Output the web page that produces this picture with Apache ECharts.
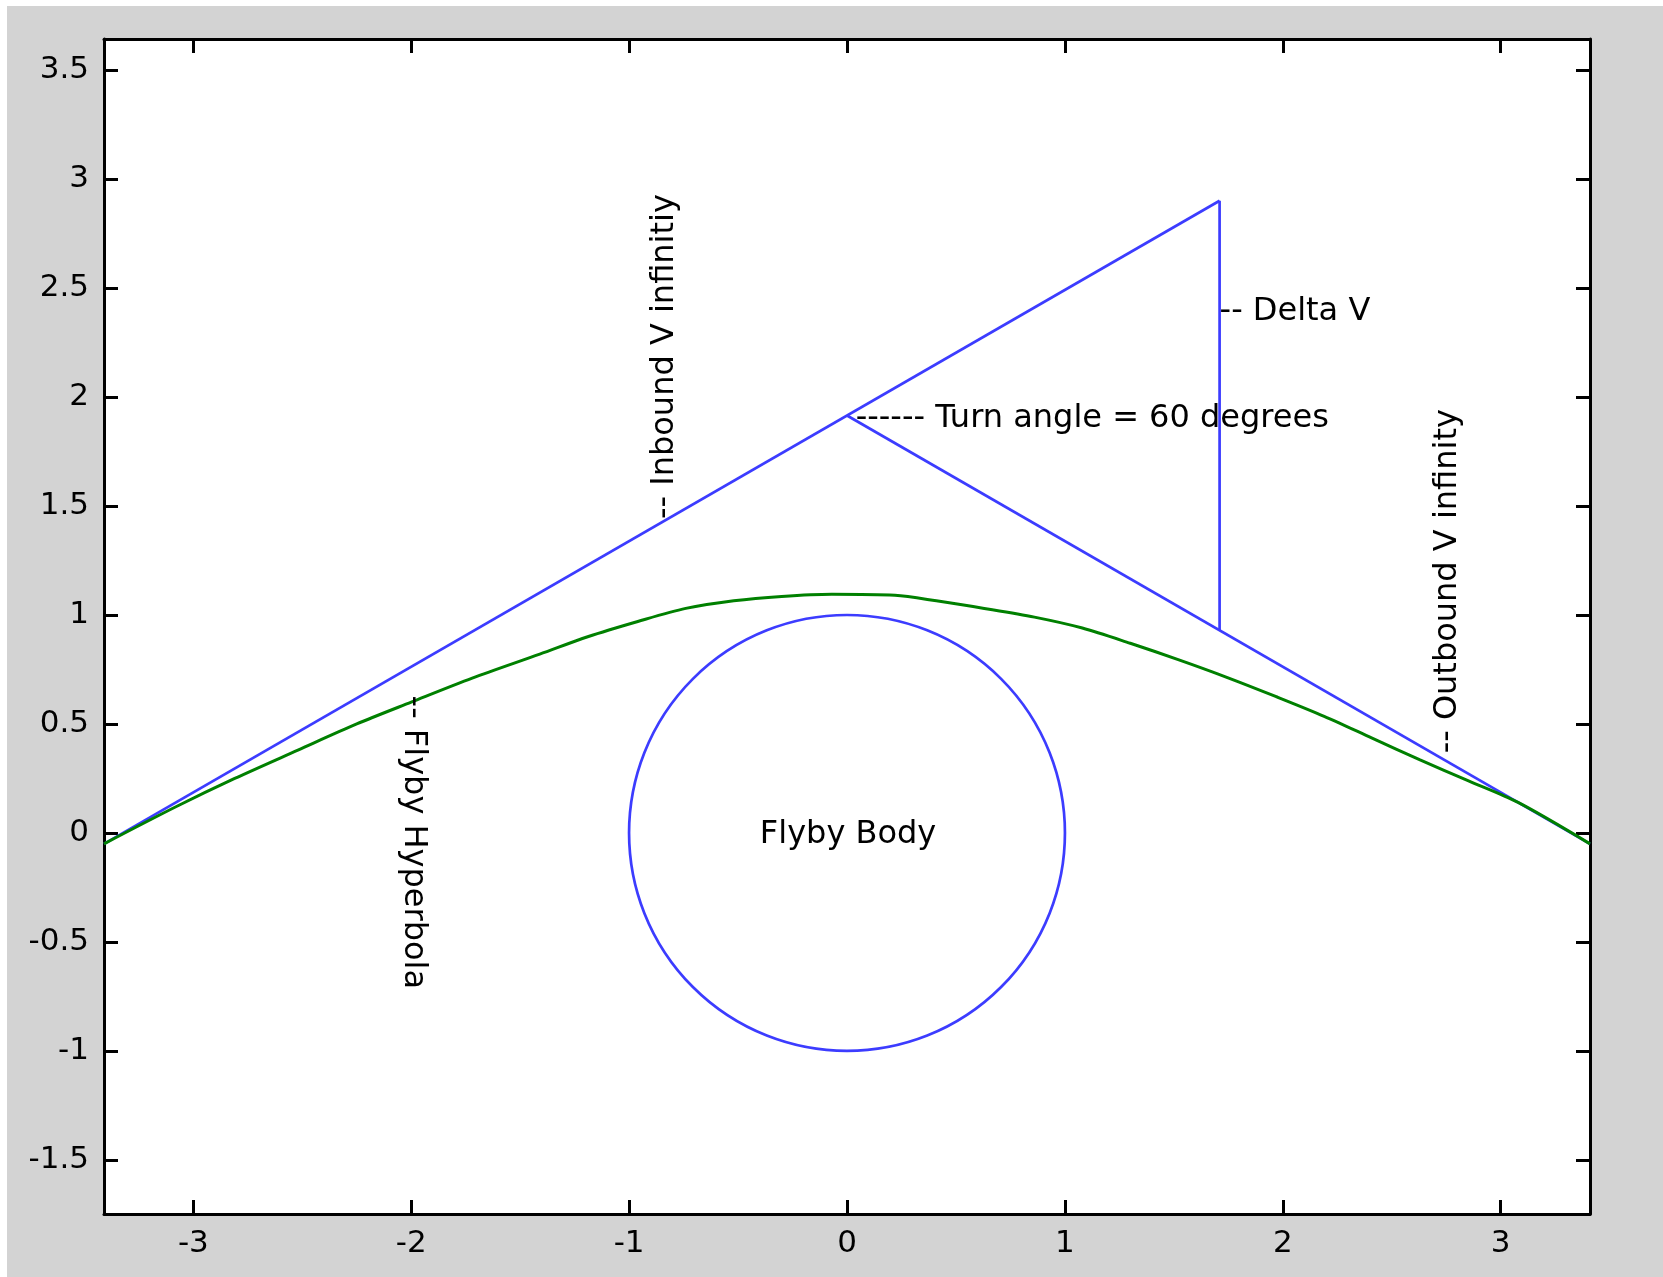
<!DOCTYPE html>
<html>
<head>
<meta charset="utf-8">
<script src="https://cdn.jsdelivr.net/npm/echarts@6/dist/echarts.min.js"></script>
<style>
  html, body { margin: 0; padding: 0; background: #ffffff; }
  #bg { position: absolute; left: 7px; top: 6px; width: 1656px; height: 1271px; background: #d3d3d3; }
  #chart { position: absolute; left: 0; top: 0; width: 1663px; height: 1277px; }
</style>
</head>
<body>
<div id="bg"></div>
<div id="chart"></div>
<script>
// ---- data ----
const xTicks = [-3, -2, -1, 0, 1, 2, 3];
const yTicks = [-1.5, -1, -0.5, 0, 0.5, 1, 1.5, 2, 2.5, 3, 3.5];
const xRange = [-3.41, 3.41];
const yRange = [-1.748, 3.642];

// Flyby hyperbola (green)
const hyperbolaX = [-3.41, -3.08, -2.81, -2.52, -2.25, -2.0, -1.72, -1.41, -1.19, -0.96, -0.74, -0.52, -0.3, -0.07, 0.22, 0.41, 0.63, 0.86, 1.08, 1.3, 1.52, 1.74, 1.97, 2.19, 2.41, 2.63, 2.85, 3.08, 3.41];
const hyperbolaY = [-0.05, 0.12, 0.25, 0.38, 0.50, 0.60, 0.71, 0.82, 0.90, 0.97, 1.03, 1.065, 1.085, 1.095, 1.09, 1.065, 1.03, 0.99, 0.94, 0.87, 0.795, 0.715, 0.625, 0.535, 0.435, 0.335, 0.24, 0.14, -0.05];

// Inbound V infinity (blue)
const inboundX = [-3.41, 1.71];
const inboundY = [-0.05, 2.90];
// Outbound V infinity (blue)
const outboundX = [0, 3.41];
const outboundY = [1.915, -0.05];
// Delta V (blue)
const deltaVX = [1.71, 1.71];
const deltaVY = [2.90, 0.93];
// Flyby body (blue circle)
const bodyCenter = [0, 0];
const bodyRadius = [1];

// Annotations
const labelTexts = ['-- Inbound V infinitiy', '------ Turn angle = 60 degrees', '-- Delta V', '-- Outbound V infinity', '-- Flyby Hyperbola', 'Flyby Body'];
const labelX = [-0.835, 0.04, 1.71, 2.755, -1.99, -0.40];
const labelY = [1.44, 1.90, 2.39, 0.365, 0.63, -0.01];
const labelAngle = [90, 0, 0, 90, -90, 0];

// ---- chart ----
const BLUE = '#3c3cff';
const GREEN = '#008000';
const FONT = '32px "DejaVu Sans"';

const zip = (xs, ys) => xs.map((x, i) => [x, ys[i]]);

const chart = echarts.init(document.getElementById('chart'), null, { renderer: 'canvas' });

const axisCommon = {
  type: 'value',
  splitLine: { show: false },
  axisLine: { show: true, onZero: false, lineStyle: { color: '#000', width: 3 } },
};

const lineSeries = (xs, ys, color, width, smooth) => ({
  type: 'line',
  data: zip(xs, ys),
  showSymbol: false,
  symbol: 'none',
  smooth: smooth || false,
  lineStyle: { color: color, width: width },
  silent: true,
  clip: false,
  z: 3
});

const option = {
  animation: false,
  backgroundColor: 'transparent',
  grid: { left: 104, top: 39, width: 1486, height: 1175, show: true, backgroundColor: '#ffffff', borderWidth: 0 },
  xAxis: [
    Object.assign({}, axisCommon, {
      position: 'bottom', min: xRange[0], max: xRange[1],
      axisTick: { show: true, inside: true, length: 14, lineStyle: { color: '#000', width: 3 }, customValues: xTicks },
      axisLabel: { show: true, color: '#000', fontFamily: 'DejaVu Sans', fontSize: 31, margin: 14, customValues: xTicks, formatter: v => String(v) }
    }),
    Object.assign({}, axisCommon, {
      position: 'top', min: xRange[0], max: xRange[1],
      axisTick: { show: true, inside: true, length: 14, lineStyle: { color: '#000', width: 3 }, customValues: xTicks },
      axisLabel: { show: false }
    })
  ],
  yAxis: [
    Object.assign({}, axisCommon, {
      position: 'left', min: yRange[0], max: yRange[1],
      axisTick: { show: true, inside: true, length: 14, lineStyle: { color: '#000', width: 3 }, customValues: yTicks },
      axisLabel: { show: true, color: '#000', fontFamily: 'DejaVu Sans', fontSize: 31, margin: 15, customValues: yTicks, formatter: v => String(v) }
    }),
    Object.assign({}, axisCommon, {
      position: 'right', min: yRange[0], max: yRange[1],
      axisTick: { show: true, inside: true, length: 14, lineStyle: { color: '#000', width: 3 }, customValues: yTicks },
      axisLabel: { show: false }
    })
  ],
  series: [
    lineSeries(inboundX, inboundY, BLUE, 2.7),
    lineSeries(outboundX, outboundY, BLUE, 2.7),
    lineSeries(deltaVX, deltaVY, BLUE, 2.7),
    lineSeries(hyperbolaX, hyperbolaY, GREEN, 3, 0.3),
    {
      type: 'custom',
      silent: true,
      clip: false,
      z: 3,
      data: [[bodyCenter[0], bodyCenter[1], bodyRadius[0]]],
      renderItem: function (params, api) {
        const c = api.coord([api.value(0), api.value(1)]);
        const s = api.size([api.value(2), api.value(2)]);
        return {
          type: 'circle',
          shape: { cx: c[0], cy: c[1], r: (s[0] + s[1]) / 2 },
          style: { fill: 'none', stroke: BLUE, lineWidth: 2.7 }
        };
      }
    },
    {
      type: 'custom',
      silent: true,
      clip: false,
      z: 5,
      data: labelX.map((x, i) => [x, labelY[i], labelAngle[i]]),
      renderItem: function (params, api) {
        const p = api.coord([api.value(0), api.value(1)]);
        return {
          type: 'text',
          x: p[0],
          y: p[1],
          rotation: api.value(2) * Math.PI / 180,
          style: {
            text: labelTexts[params.dataIndex],
            fill: '#000',
            font: FONT,
            align: 'left',
            verticalAlign: 'middle'
          }
        };
      }
    }
  ]
};

chart.setOption(option);
</script>
</body>
</html>
